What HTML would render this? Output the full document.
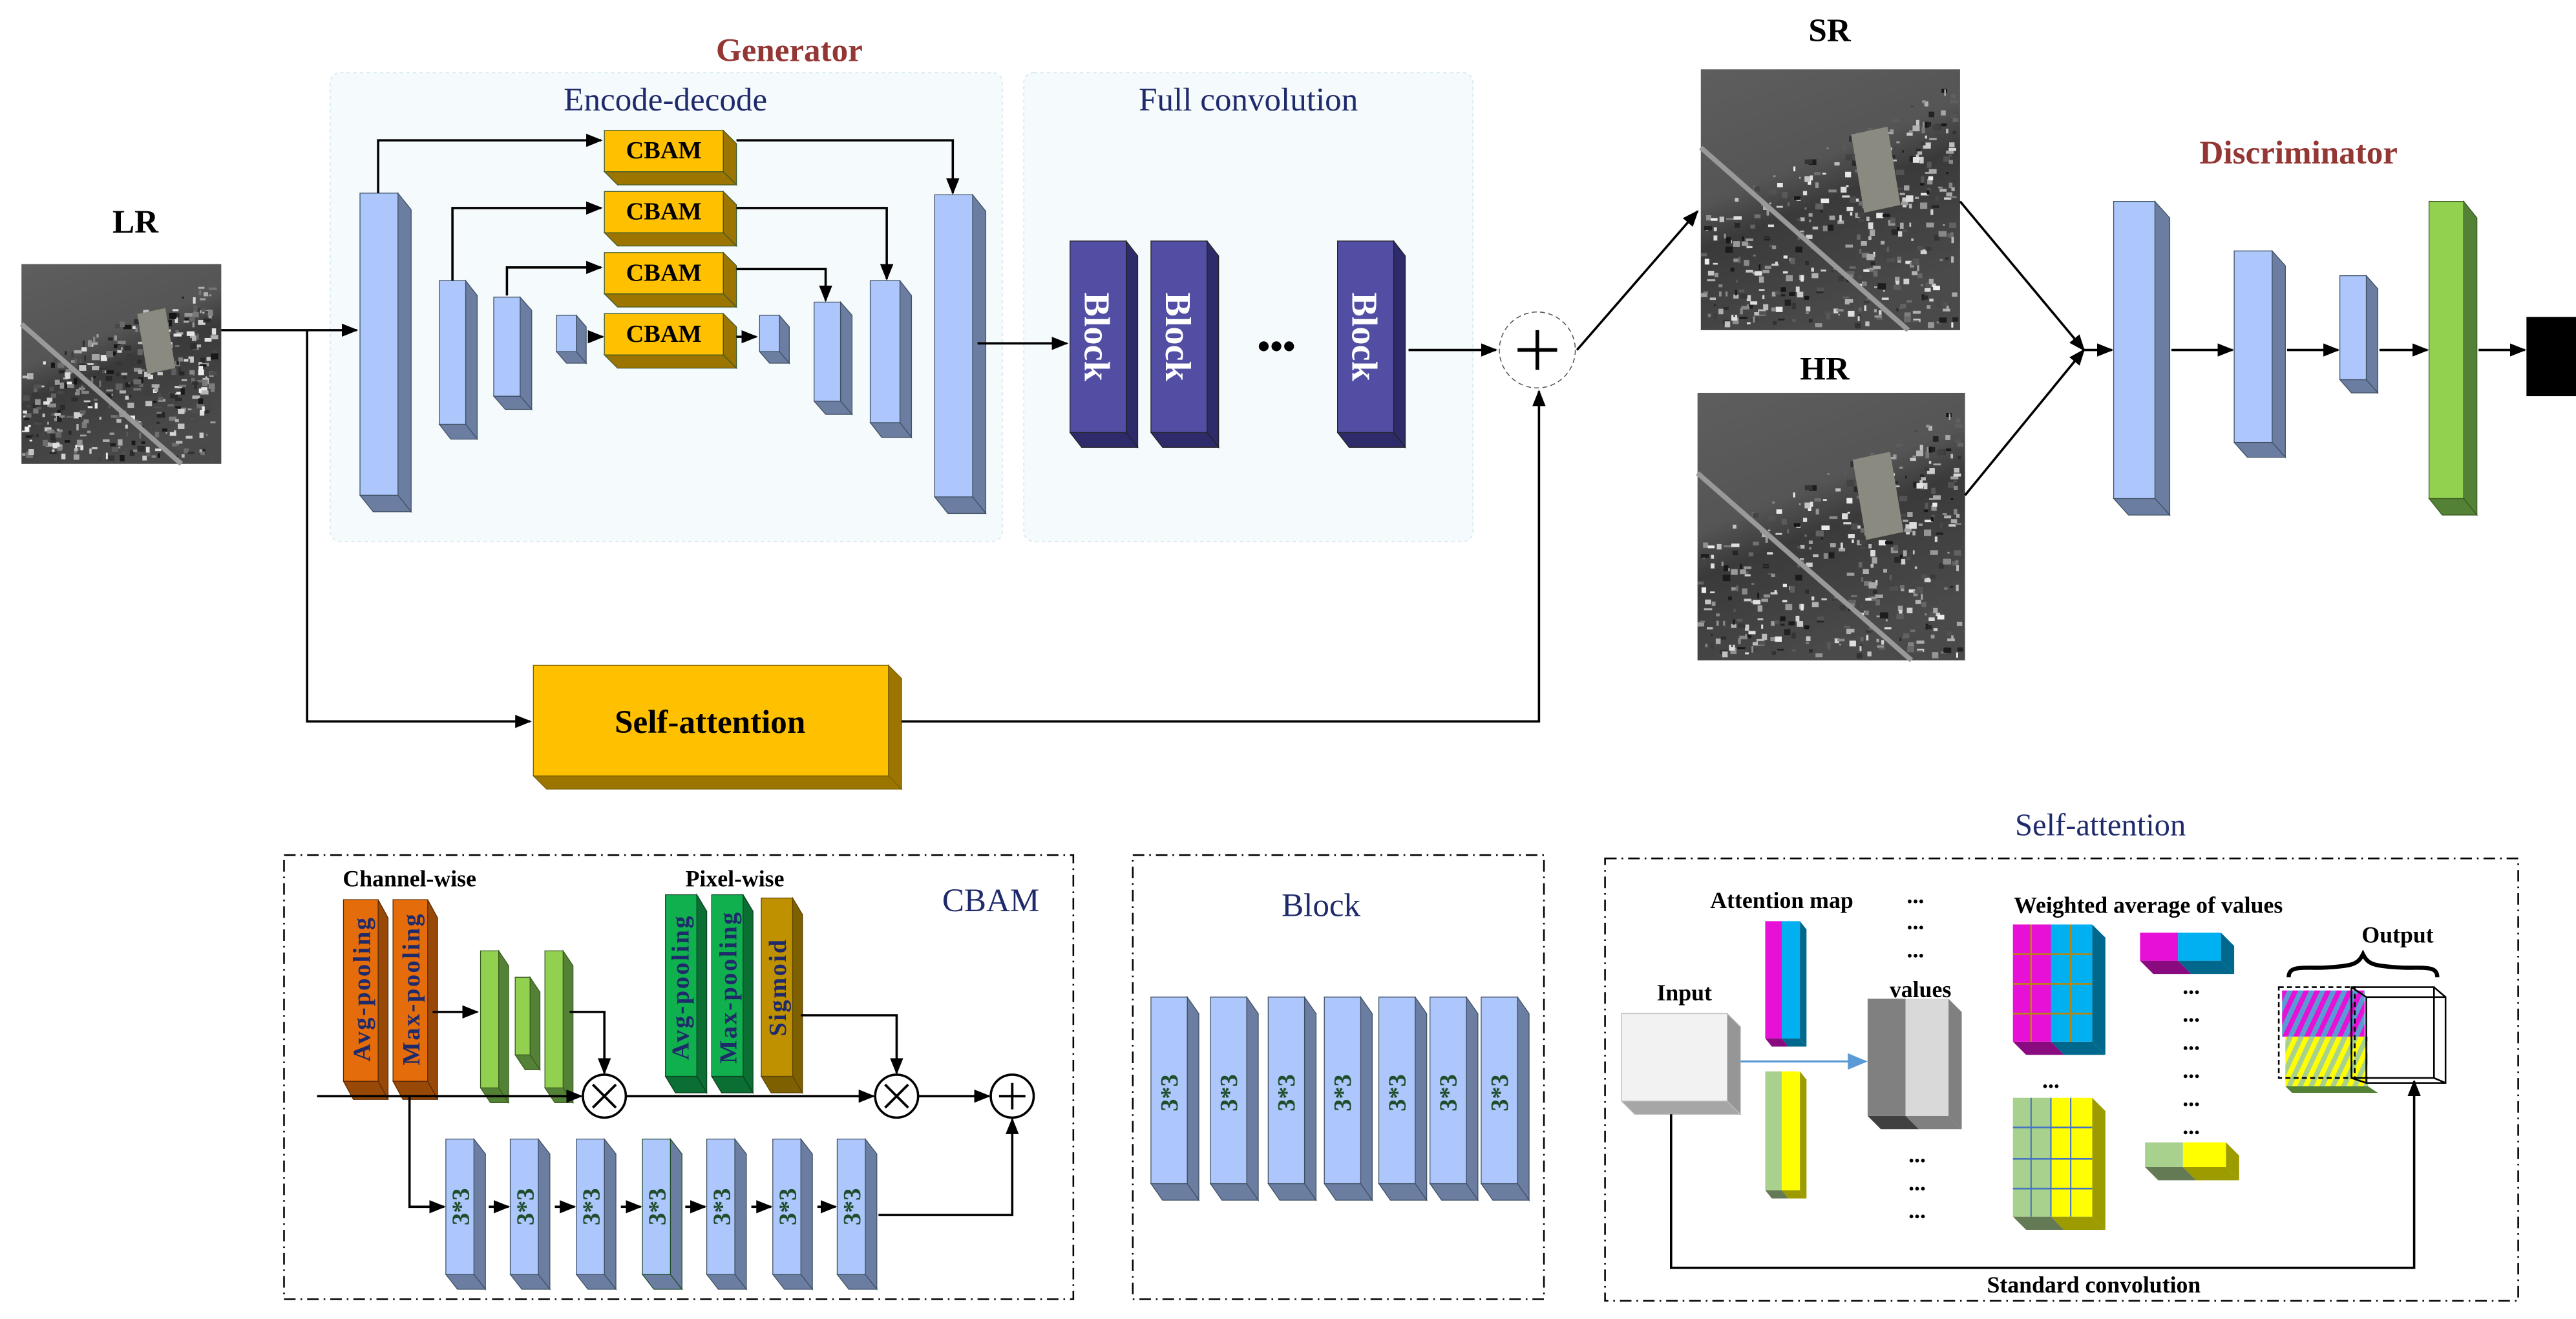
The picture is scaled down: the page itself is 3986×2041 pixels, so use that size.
<!DOCTYPE html>
<html><head><meta charset="utf-8"><style>
html,body{margin:0;padding:0;background:#fff}
svg{display:block}
.b{font-family:"Liberation Serif",serif;font-weight:bold;fill:#000}
.n{font-family:"Liberation Serif",serif;fill:#1f2a6b}
</style></head><body>
<svg id="s" width="3986" height="2041" viewBox="0 0 1560 799" preserveAspectRatio="none" xmlns="http://www.w3.org/2000/svg">
<defs>
<marker id="a" markerUnits="userSpaceOnUse" markerWidth="10" markerHeight="8" refX="9" refY="4" orient="auto"><path d="M0,0L10,4L0,8Z" fill="#000"/></marker>
<marker id="ab" markerUnits="userSpaceOnUse" markerWidth="12" markerHeight="10" refX="11" refY="5" orient="auto"><path d="M0,0L12,5L0,10Z" fill="#5b9bd5"/></marker>
<linearGradient id="img" x1="0" y1="0" x2="0.4" y2="1"><stop offset="0" stop-color="#5e5e5e"/><stop offset="0.45" stop-color="#555"/><stop offset="0.6" stop-color="#3a3a3a"/><stop offset="1" stop-color="#4a4a4a"/></linearGradient>
<pattern id="hm" width="6" height="6" patternUnits="userSpaceOnUse" patternTransform="rotate(25)"><rect width="6" height="6" fill="#5b9bd5"/><rect width="3" height="6" fill="#e610d6"/></pattern>
<pattern id="hy" width="6" height="6" patternUnits="userSpaceOnUse" patternTransform="rotate(25)"><rect width="6" height="6" fill="#a9d18e"/><rect width="3" height="6" fill="#ffff00"/></pattern>
</defs>
<rect width="1560" height="799" fill="#fff"/>
<rect x="200" y="44" width="407" height="284" rx="6" fill="#f5fafc" stroke="#d5eaf2" stroke-dasharray="2,2" stroke-width="0.7"/>
<rect x="620" y="44" width="272" height="284" rx="6" fill="#f5fafc" stroke="#d5eaf2" stroke-dasharray="2,2" stroke-width="0.7"/>
<g fill="none" stroke="#000" stroke-width="1" stroke-dasharray="7,3,1,3">
<rect x="172" y="518" width="478" height="269"/>
<rect x="686" y="518" width="249" height="269"/>
<rect x="972" y="520" width="553" height="268"/>
</g>
<g id="shapes"></g>
<g fill="none" stroke="#000" stroke-width="1.4">
<path d="M134,200H216" marker-end="url(#a)"/>
<path d="M186,200V437H321" marker-end="url(#a)"/>
<path d="M229,117V85H364" marker-end="url(#a)"/>
<path d="M446,85H577V117" marker-end="url(#a)"/>
<path d="M274,170V126H364" marker-end="url(#a)"/>
<path d="M446,126H537V169" marker-end="url(#a)"/>
<path d="M307,179V162H364" marker-end="url(#a)"/>
<path d="M446,163H500V182" marker-end="url(#a)"/>
<path d="M357,204H365" marker-end="url(#a)"/>
<path d="M446,204H458" marker-end="url(#a)"/>
<path d="M592,208H646" marker-end="url(#a)"/>
<path d="M853,212H906" marker-end="url(#a)"/>
<path d="M546,437H932V237" marker-end="url(#a)"/>
<path d="M955,212L1028,128" marker-end="url(#a)"/>
<path d="M1187,122L1262,212" marker-end="url(#a)"/>
<path d="M1190,300L1262,212" marker-end="url(#a)"/>
<path d="M1262,212H1279" marker-end="url(#a)"/>
<path d="M1315,212H1352" marker-end="url(#a)"/>
<path d="M1385,212H1416" marker-end="url(#a)"/>
<path d="M1441,212H1470" marker-end="url(#a)"/>
<path d="M1501,212H1529" marker-end="url(#a)"/>
<path d="M192,664H352" marker-end="url(#a)"/>
<path d="M379,664H529" marker-end="url(#a)"/>
<path d="M556,664H599" marker-end="url(#a)"/>
<path d="M262,613H289" marker-end="url(#a)"/>
<path d="M345,613H366V650" marker-end="url(#a)"/>
<path d="M485,615H543V650" marker-end="url(#a)"/>
<path d="M248,664V731H269" marker-end="url(#a)"/>
<path d="M296,731H308" marker-end="url(#a)"/>
<path d="M336,731H348" marker-end="url(#a)"/>
<path d="M376,731H388" marker-end="url(#a)"/>
<path d="M415,731H427" marker-end="url(#a)"/>
<path d="M455,731H467" marker-end="url(#a)"/>
<path d="M495,731H506" marker-end="url(#a)"/>
<path d="M532,736H613V678" marker-end="url(#a)"/>
<path d="M1012,675V768H1462V655" marker-end="url(#a)"/>
</g>
<path d="M1054,643H1130" stroke="#5b9bd5" stroke-width="1.3" fill="none" marker-end="url(#ab)"/>
<circle cx="931" cy="212" r="23" fill="#fff" stroke="#555" stroke-width="0.6" stroke-dasharray="3,2"/>
<path d="M919,212H943M931,200V224" stroke="#000" stroke-width="2.2"/>
<g fill="#fff" stroke="#000" stroke-width="1.4">
<circle cx="366" cy="664" r="13"/><circle cx="543" cy="664" r="13"/><circle cx="613" cy="664" r="13"/>
</g>
<path d="M359,657L373,671M373,657L359,671M536,657L550,671M550,657L536,671M605,664H621M613,656V672" stroke="#000" stroke-width="1.5"/>
<g fill="none" stroke="#000" stroke-width="1">
<rect x="1424" y="598" width="50" height="55"/>
<path d="M1424,598L1433,604H1481V656H1433L1424,653M1474,598L1481,604M1474,653L1481,656M1433,604V656"/>
<rect x="1380" y="598" width="46" height="55" stroke-dasharray="3,2"/>
<path d="M1386,592C1386,584 1396,587 1410,586C1425,585 1428,584 1431,578C1434,584 1437,585 1452,586C1466,587 1476,584 1476,592" stroke-width="2.5"/>
</g>
<text x="478" y="37" text-anchor="middle" class="b" style="fill:#943634" font-size="20">Generator</text>
<text x="403" y="67" text-anchor="middle" class="n" font-size="20">Encode-decode</text>
<text x="756" y="67" text-anchor="middle" class="n" font-size="20">Full convolution</text>
<text x="82" y="141" text-anchor="middle" class="b" font-size="20">LR</text>
<text x="1108" y="25" text-anchor="middle" class="b" font-size="20">SR</text>
<text x="1105" y="230" text-anchor="middle" class="b" font-size="20">HR</text>
<text x="1392" y="99" text-anchor="middle" class="b" style="fill:#943634" font-size="20">Discriminator</text>
<g class="b" font-size="15" text-anchor="middle">
<text x="402" y="96">CBAM</text><text x="402" y="133">CBAM</text><text x="402" y="170">CBAM</text><text x="402" y="207">CBAM</text>
</g>
<g class="b" font-size="22" style="fill:#fff" text-anchor="middle">
<text transform="translate(657,204) rotate(90)">Block</text>
<text transform="translate(706,204) rotate(90)">Block</text>
<text transform="translate(819,204) rotate(90)">Block</text>
</g>
<text x="773" y="217" text-anchor="middle" class="b" font-size="22">•••</text>
<text x="430" y="444" text-anchor="middle" class="b" font-size="20">Self-attention</text>
<text x="248" y="537" text-anchor="middle" class="b" font-size="14">Channel-wise</text>
<text x="445" y="537" text-anchor="middle" class="b" font-size="14">Pixel-wise</text>
<text x="600" y="552" text-anchor="middle" class="n" font-size="20">CBAM</text>
<text x="800" y="555" text-anchor="middle" class="n" font-size="20">Block</text>
<text x="1272" y="506" text-anchor="middle" class="n" font-size="19">Self-attention</text>
<g class="b" font-size="15" style="fill:#1f2a6b;letter-spacing:1px" text-anchor="middle">
<text transform="translate(224,599) rotate(-90)">Avg-pooling</text>
<text transform="translate(254,599) rotate(-90)">Max-pooling</text>
<text transform="translate(417,598) rotate(-90)">Avg-pooling</text>
<text transform="translate(446,598) rotate(-90)">Max-pooling</text>
<text transform="translate(476,598) rotate(-90)">Sigmoid</text>
</g>
<g class="b" font-size="15" style="fill:#1e4d2b" text-anchor="middle">
<text transform="translate(284,731) rotate(-90)">3*3</text><text transform="translate(323,731) rotate(-90)">3*3</text><text transform="translate(363,731) rotate(-90)">3*3</text><text transform="translate(403,731) rotate(-90)">3*3</text><text transform="translate(442,731) rotate(-90)">3*3</text><text transform="translate(482,731) rotate(-90)">3*3</text><text transform="translate(521,731) rotate(-90)">3*3</text>
<text transform="translate(713,662) rotate(-90)">3*3</text><text transform="translate(749,662) rotate(-90)">3*3</text><text transform="translate(784,662) rotate(-90)">3*3</text><text transform="translate(818,662) rotate(-90)">3*3</text><text transform="translate(851,662) rotate(-90)">3*3</text><text transform="translate(882,662) rotate(-90)">3*3</text><text transform="translate(913,662) rotate(-90)">3*3</text>
</g>
<g class="b" font-size="14" text-anchor="middle">
<text x="1079" y="550">Attention map</text>
<text x="1301" y="553">Weighted average of values</text>
<text x="1452" y="571">Output</text>
<text x="1020" y="606">Input</text>
<text x="1163" y="604">values</text>
<text x="1268" y="783">Standard convolution</text>
</g>
<g class="b" font-size="14" text-anchor="middle">
<text x="1160" y="547">...</text><text x="1160" y="563">...</text><text x="1160" y="580">...</text>
<text x="1161" y="704">...</text><text x="1161" y="721">...</text><text x="1161" y="738">...</text>
<text x="1242" y="659">...</text>
<text x="1327" y="602">...</text><text x="1327" y="619">...</text><text x="1327" y="636">...</text><text x="1327" y="653">...</text><text x="1327" y="670">...</text><text x="1327" y="687">...</text>
</g>
</svg>
<script>
(function(){
var NS="http://www.w3.org/2000/svg",g=document.getElementById("shapes");
function el(t,a){var e=document.createElementNS(NS,t);for(var k in a)e.setAttribute(k,a[k]);g.appendChild(e);return e;}
function poly(p,f,s){el("polygon",{points:p.join(" "),fill:f,stroke:s||"none","stroke-width":0.5});}
function box(x,y,w,h,dx,dy,fr,sd,bt,st){
 poly([x+w,y,x+w+dx,y+dy,x+w+dx,y+h+dy,x+w,y+h],sd,st||"#3f5063");
 poly([x,y+h,x+w,y+h,x+w+dx,y+h+dy,x+dx,y+h+dy],bt||sd,st||"#3f5063");
 el("rect",{x:x,y:y,width:w,height:h,fill:fr,stroke:st||"#3f5063","stroke-width":0.5});
}
var BF="#adc6fb",BS="#6b7da1";
box(218,117,23,183,8,10,BF,BS);box(266,170,16,87,7,9,BF,BS);box(299,180,16,60,7,8,BF,BS);box(337,191,12,22,6,7,BF,BS);
box(460,191,12,22,6,7,BF,BS);box(493,183,16,60,7,8,BF,BS);box(527,170,18,86,7,9,BF,BS);box(566,118,23,183,8,10,BF,BS);
var Y="#ffc000",YS="#9c7400";
[79,116,153,190].forEach(function(y){box(366,y,72,25,8,8,Y,YS,YS,"#3c5a2c");});
box(323,403,215,67,8,8,Y,YS,YS,"#7a6000");
var P="#524ea3",PS="#2e2b6a";
[648,697,810].forEach(function(x){box(x,146,34,116,7,9,P,PS,PS,"#222");});
box(1280,122,25,180,9,10,BF,BS);box(1353,152,23,116,8,9,BF,BS);box(1417,167,16,63,7,8,BF,BS);
box(1471,122,21,180,8,10,"#92d050","#538135","#538135","#3a5a20");
el("rect",{x:1530,y:192,width:30,height:48,fill:"#000"});
function img(x,y,w,h,seed){
 el("rect",{x:x,y:y,width:w,height:h,fill:"url(#img)"});
 var s=seed;function r(){s=(s*9301+49297)%233280;return s/233280;}
 for(var i=0;i<600;i++){var px=r(),py=r();if(py+px*0.5<0.55)continue;
  var c=Math.floor(20+r()*220);el("rect",{x:x+px*(w-4),y:y+py*(h-4),width:1+r()*4,height:1+r()*3,fill:"rgb("+c+","+c+","+c+")"});}
 el("polygon",{points:[x+w*0.58,y+h*0.25,x+w*0.72,y+h*0.22,x+w*0.77,y+h*0.52,x+w*0.63,y+h*0.55].join(" "),fill:"#8a8a80"});
 el("line",{x1:x,y1:y+h*0.3,x2:x+w*0.8,y2:y+h,stroke:"#999","stroke-width":3});
}
img(13,160,121,121,7);img(1030,42,157,158,11);img(1028,238,162,162,11);
var O="#e46c0a",OS="#984807";
box(208,545,21,110,6,11,O,OS,OS,"#5a2a00");box(238,545,21,110,6,11,O,OS,OS,"#5a2a00");
var G="#92d050",GS="#538135";
box(291,576,11,83,6,9,G,GS,GS,"#3a5a20");box(312,592,9,47,6,9,G,GS,GS,"#3a5a20");box(330,576,11,83,6,9,G,GS,GS,"#3a5a20");
var DG="#11b04f",DGS="#0b6e33";
box(403,542,19,110,6,10,DG,DGS,DGS,"#0a4020");box(431,542,19,110,6,10,DG,DGS,DGS,"#0a4020");
box(461,544,19,108,6,10,"#bf9000","#7f6000","#7f6000","#5a4400");
[270,309,349,389,428,468,507].forEach(function(x,i){box(x,690,17,82,7,9,BF,BS,BS,i==3?"#1e4d2b":null);});
[697,733,768,802,835,866,897].forEach(function(x){box(x,604,22,113,7,10,BF,BS);});
box(982,614,64,53,8,8,"#f2f2f2","#969696","#a6a6a6","#bbb");
function two(x,y,w1,w2,h,dx,dy,c1,c2,s,b1,b2){
 poly([x+w1+w2,y,x+w1+w2+dx,y+dy,x+w1+w2+dx,y+h+dy,x+w1+w2,y+h],s);
 poly([x,y+h,x+w1,y+h,x+w1+dx,y+h+dy,x+dx,y+h+dy],b1);
 poly([x+w1,y+h,x+w1+w2,y+h,x+w1+w2+dx,y+h+dy,x+w1+dx,y+h+dy],b2);
 el("rect",{x:x,y:y,width:w1,height:h,fill:c1});el("rect",{x:x+w1,y:y,width:w2,height:h,fill:c2});
}
two(1069,558,10,11,71,4,5,"#e610d6","#00b0f0","#00688c","#8a0a80","#00688c");
two(1069,649,10,11,72,4,5,"#a9d18e","#ffff00","#9c9c00","#647a55","#9c9c00");
two(1131,605,23,26,71,8,8,"#808080","#d9d9d9","#808080","#404040","#808080");
two(1219,560,23,25,71,8,8,"#e610d6","#00b0f0","#00688c","#8a0a80","#00688c");
[578,596,614].forEach(function(y){el("line",{x1:1219,y1:y,x2:1267,y2:y,stroke:"#b8860b","stroke-width":1});});
[1230,1254].forEach(function(x){el("line",{x1:x,y1:560,x2:x,y2:631,stroke:"#b8860b","stroke-width":1});});
two(1219,665,23,25,72,8,8,"#a9d18e","#ffff00","#9c9c00","#647a55","#9c9c00");
[683,702,720].forEach(function(y){el("line",{x1:1219,y1:y,x2:1267,y2:y,stroke:"#4472c4","stroke-width":1});});
[1230,1242,1254].forEach(function(x){el("line",{x1:x,y1:665,x2:x,y2:737,stroke:"#4472c4","stroke-width":0.8});});
two(1296,565,23,26,17,8,8,"#e610d6","#00b0f0","#00688c","#8a0a80","#00688c");
two(1299,692,23,26,15,8,8,"#a9d18e","#ffff00","#9c9c00","#647a55","#9c9c00");
el("rect",{x:1382,y:600,width:50,height:28,fill:"url(#hm)"});
el("rect",{x:1384,y:628,width:50,height:30,fill:"url(#hy)"});
poly([1384,658,1434,658,1440,662,1388,662],"#538135");
})();
</script>
</body></html>
